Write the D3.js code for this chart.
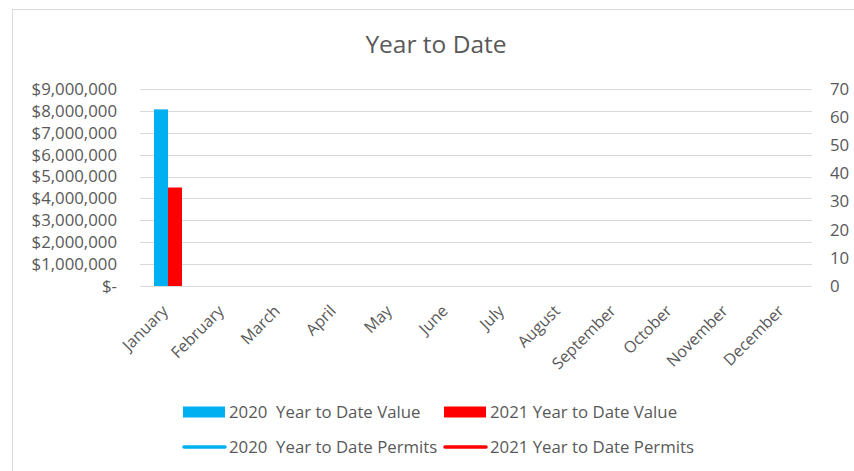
<!DOCTYPE html>
<html>
<head>
<meta charset="utf-8">
<script src="https://cdn.jsdelivr.net/npm/d3@7"></script>
<style>
  html, body { margin: 0; padding: 0; background: #fff; }
  svg { display: block; font-family: "Open Sans", sans-serif; }
  text { white-space: pre; }
</style>
</head>
<body>
<svg id="chart" width="854" height="471"></svg>
<script>
// ---- data ----
const months = ["January","February","March","April","May","June","July","August","September","October","November","December"];
const value2020 = [8070000, null, null, null, null, null, null, null, null, null, null, null];
const value2021 = [4500000, null, null, null, null, null, null, null, null, null, null, null];
// permit lines: only a single (January) point exists, so no visible line segment
const permits2020 = [null, null, null, null, null, null, null, null, null, null, null, null];
const permits2021 = [null, null, null, null, null, null, null, null, null, null, null, null];
const leftTicks = [0,1000000,2000000,3000000,4000000,5000000,6000000,7000000,8000000,9000000];
const rightTicks = [0,10,20,30,40,50,60,70];
const title = "Year to Date";
const legendLabels = ["2020  Year to Date Value","2021 Year to Date Value","2020  Year to Date Permits","2021 Year to Date Permits"];
const colors = ["#00B0F0", "#FF0000"];

// ---- layout ----
const svg = d3.select("#chart");
const plot = {left: 140, right: 812, top: 89, bottom: 286};
const textColor = "#595959";

// chart border
svg.append("rect").attr("x", 12.5).attr("y", 9.5).attr("width", 900).attr("height", 500)
  .attr("fill", "none").attr("stroke", "#d9d9d9").attr("stroke-width", 1);

svg.append("text").attr("x", 436).attr("y", 53).attr("text-anchor", "middle")
  .attr("font-size", 24.5).attr("fill", textColor).text(title);

const x = d3.scaleBand().domain(months).range([plot.left, plot.right]).paddingInner(0).paddingOuter(0);
const yL = d3.scaleLinear().domain([0, 9000000]).range([plot.bottom, plot.top]);
const yR = d3.scaleLinear().domain([0, 70]).range([plot.bottom, plot.top]);

// gridlines
svg.append("g").selectAll("line").data(leftTicks).join("line")
  .attr("x1", plot.left).attr("x2", plot.right)
  .attr("y1", d => Math.round(yL(d)) + 0.5).attr("y2", d => Math.round(yL(d)) + 0.5)
  .attr("stroke", "#d9d9d9").attr("stroke-width", 1);

// left axis
const fmt = d => d === 0 ? "$-" : "$" + d3.format(",")(d);
const gL = svg.append("g").attr("transform", `translate(${plot.left - 23},0)`)
  .call(d3.axisLeft(yL).tickValues(leftTicks).tickFormat(fmt).tickSize(0).tickPadding(0));
gL.select(".domain").remove();
gL.selectAll("text").attr("font-size", 16.8).attr("fill", textColor).attr("font-family", "Open Sans");

// right axis
const gR = svg.append("g").attr("transform", `translate(${plot.right + 18},0)`)
  .call(d3.axisRight(yR).tickValues(rightTicks).tickSize(0).tickPadding(0));
gR.select(".domain").remove();
gR.selectAll("text").attr("font-size", 16.8).attr("fill", textColor).attr("font-family", "Open Sans");

// x axis labels
const gX = svg.append("g").attr("transform", `translate(0,${plot.bottom + 12})`)
  .call(d3.axisBottom(x).tickSize(0).tickPadding(0));
gX.select(".domain").remove();
gX.selectAll("text").attr("font-size", 16).attr("fill", textColor).attr("font-family", "Open Sans")
  .attr("text-anchor", "end").attr("dy", "0.35em")
  .attr("transform", "translate(-3,10) rotate(-45)");

// bars
const sub = d3.scaleBand().domain([0,1]).range([0, x.bandwidth()]).paddingOuter(1).paddingInner(0);
const series = [value2020, value2021];
series.forEach((vals, si) => {
  svg.append("g").selectAll("rect").data(vals.map((v,i)=>({m: months[i], v})).filter(d => d.v != null)).join("rect")
    .attr("x", d => x(d.m) + sub(si))
    .attr("width", sub.bandwidth())
    .attr("y", d => yL(d.v))
    .attr("height", d => yL(0) - yL(d.v))
    .attr("fill", colors[si]);
});

// permit lines (right axis)
[permits2020, permits2021].forEach((vals, si) => {
  const line = d3.line().defined(d => d.v != null)
    .x(d => x(d.m) + x.bandwidth()/2).y(d => yR(d.v));
  svg.append("path").datum(vals.map((v,i)=>({m: months[i], v})))
    .attr("d", line).attr("fill", "none").attr("stroke", colors[si]).attr("stroke-width", 2.25);
});

// legend
const legendPos = [
  {x: 183, y: 412, type: "rect", c: 0},
  {x: 444, y: 412, type: "rect", c: 1},
  {x: 183, y: 447, type: "line", c: 0},
  {x: 444, y: 447, type: "line", c: 1}
];
legendPos.forEach((p, i) => {
  if (p.type === "rect") {
    svg.append("rect").attr("x", p.x).attr("y", p.y - 5.5).attr("width", 42).attr("height", 11).attr("fill", colors[p.c]);
  } else {
    svg.append("line").attr("x1", p.x + 1).attr("x2", p.x + 42).attr("y1", p.y).attr("y2", p.y)
      .attr("stroke", colors[p.c]).attr("stroke-width", 3.5).attr("stroke-linecap", "round");
  }
  svg.append("text").attr("x", p.x + 46).attr("y", p.y).attr("dy", "0.35em")
    .attr("font-size", 16.8).attr("fill", textColor).text(legendLabels[i]);
});
</script>
</body>
</html>
